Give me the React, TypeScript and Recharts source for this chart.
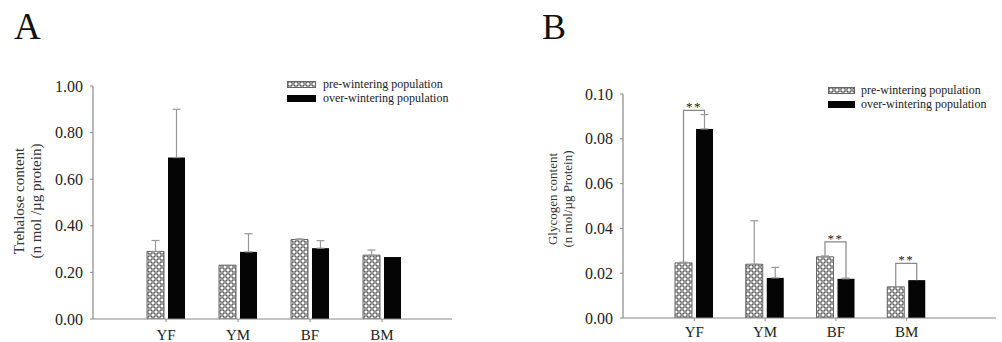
import React from 'react';
import { BarChart, Bar, XAxis, YAxis, ErrorBar, Legend } from 'recharts';

const categories = ['YF', 'YM', 'BF', 'BM'];
const seriesNames = ['pre-wintering population', 'over-wintering population'];

const trehalosePre = [0.29, 0.231, 0.341, 0.274];
const trehalosePreErr: (number | null)[] = [0.047, null, 0.003, 0.022];
const trehaloseOver = [0.693, 0.288, 0.304, 0.266];
const trehaloseOverErr: (number | null)[] = [0.207, 0.078, 0.032, null];
const trehaloseSig: (number | null)[] = [null, null, null, null];
const trehaloseTicks = [0, 0.2, 0.4, 0.6, 0.8, 1.0];

const glycogenPre = [0.0246, 0.024, 0.0273, 0.0139];
const glycogenPreErr: (number | null)[] = [0.0003, 0.0194, 0.0004, null];
const glycogenOver = [0.0844, 0.0179, 0.0175, 0.0169];
const glycogenOverErr: (number | null)[] = [0.0064, 0.0047, 0.0003, null];
const glycogenSig: (number | null)[] = [0.0927, null, 0.034, 0.0244];
const glycogenTicks = [0, 0.02, 0.04, 0.06, 0.08, 0.1];
const sigLabel = '**';

const FONT = "'Liberation Serif', 'Times New Roman', serif";
const BAR_SIZE = 17;
const BAR_GAP = 4;

function buildRows(pre: number[], preErr: (number | null)[], over: number[], overErr: (number | null)[], sig: (number | null)[]) {
  return categories.map((c, i) => ({
    cat: c,
    pre: pre[i],
    over: over[i],
    preErr: preErr[i] == null ? null : [0, preErr[i]],
    overErr: overErr[i] == null ? null : [0, overErr[i]],
    preErrUp: preErr[i] ?? 0,
    overErrUp: overErr[i] ?? 0,
    sig: sig[i],
  }));
}

const rowsA = buildRows(trehalosePre, trehalosePreErr, trehaloseOver, trehaloseOverErr, trehaloseSig);
const rowsB = buildRows(glycogenPre, glycogenPreErr, glycogenOver, glycogenOverErr, glycogenSig);

const OverShape = (props: any) => {
  const { x, y, width, height, payload } = props;
  const bottom = y + height;
  const k = payload.over ? height / payload.over : 0;
  let bracket = null;
  if (payload.sig != null && k) {
    const by = bottom - payload.sig * k;
    const lx = x - BAR_GAP - width / 2;
    const rx = x + width / 2;
    const lTop = bottom - (payload.pre + payload.preErrUp) * k;
    const rTop = bottom - (payload.over + payload.overErrUp) * k;
    bracket = (
      <g>
        <path d={`M${lx},${lTop} V${by} H${rx} V${rTop}`} fill="none" stroke="#888" strokeWidth={1.2} />
        <text x={(lx + rx) / 2} y={by + 1} textAnchor="middle" fontFamily={FONT} fontSize={13} letterSpacing={1.5} fill="#222" style={{ fill: '#222' }}>
          {sigLabel}
        </text>
      </g>
    );
  }
  return (
    <g>
      <rect x={x} y={y} width={width} height={height} fill="#050505" />
      {bracket}
    </g>
  );
};

const PatternDef = ({ id }: { id: string }) => (
  <defs>
    <pattern id={id} width={6} height={6} patternUnits="userSpaceOnUse">
      <rect width={6} height={6} fill="#fff" />
      <circle cx={3} cy={3} r={2.1} fill="none" stroke="#555" strokeWidth={0.9} />
      <circle cx={0} cy={0} r={2.1} fill="none" stroke="#555" strokeWidth={0.9} />
      <circle cx={6} cy={0} r={2.1} fill="none" stroke="#555" strokeWidth={0.9} />
      <circle cx={0} cy={6} r={2.1} fill="none" stroke="#555" strokeWidth={0.9} />
      <circle cx={6} cy={6} r={2.1} fill="none" stroke="#555" strokeWidth={0.9} />
    </pattern>
  </defs>
);

const makeLegend = (patternId: string, swW: number, gap: number, rowH: number) => () => (
  <div style={{ fontFamily: FONT, fontSize: 12, color: '#222' }}>
    {seriesNames.map((n, i) => (
      <div key={n} style={{ display: 'flex', alignItems: 'center', height: rowH, whiteSpace: 'nowrap' }}>
        <svg width={swW} height={7} style={{ display: 'block' }}>
          {i === 0 ? (
            <rect x={0.5} y={0.5} width={swW - 1} height={6} fill={`url(#${patternId})`} stroke="#666" />
          ) : (
            <rect x={0} y={0} width={swW} height={7} fill="#050505" />
          )}
        </svg>
        <span style={{ marginLeft: gap, lineHeight: `${rowH}px` }}>{n}</span>
      </div>
    ))}
  </div>
);

const makeYLabel = (lines: string[], x1: number, x2: number, cy: number, fs: number) => () => (
  <g>
    <text transform={`translate(${x1},${cy}) rotate(-90)`} textAnchor="middle" fontFamily={FONT} fontSize={fs} fill="#333">
      {lines[0]}
    </text>
    <text transform={`translate(${x2},${cy}) rotate(-90)`} textAnchor="middle" fontFamily={FONT} fontSize={fs} fill="#333">
      {lines[1]}
    </text>
  </g>
);

interface PanelProps {
  rows: any[];
  width: number;
  margin: any;
  xHeight: number;
  yWidth: number;
  padding: { left: number; right: number };
  domain: [number, number];
  ticks: number[];
  patternId: string;
  xTickMargin: number;
  yLabel: () => React.ReactElement;
  legend: () => React.ReactElement;
  legendPos: { left: number; top: number };
}

const Panel = (p: PanelProps) => (
  <BarChart
    width={p.width}
    height={342}
    data={p.rows}
    margin={p.margin}
    barSize={BAR_SIZE}
    barGap={BAR_GAP}
  >
    <PatternDef id={p.patternId} />
    <XAxis
      dataKey="cat"
      height={p.xHeight}
      padding={p.padding}
      tickSize={3}
      tickMargin={p.xTickMargin}
      axisLine={{ stroke: '#888', strokeWidth: 1.2 }}
      tickLine={{ stroke: '#888' }}
      tick={{ fontFamily: FONT, fontSize: 15, fill: '#222' }}
      interval={0}
    />
    <YAxis
      width={p.yWidth}
      domain={p.domain}
      ticks={p.ticks}
      type="number"
      allowDataOverflow
      tickFormatter={(v: number) => v.toFixed(2)}
      tickSize={3}
      tickMargin={7}
      axisLine={{ stroke: '#888', strokeWidth: 1.2 }}
      tickLine={{ stroke: '#888' }}
      tick={{ fontFamily: FONT, fontSize: 16, fill: '#222' }}
      label={{ content: p.yLabel }}
    />
    <Legend
      layout="vertical"
      align="center"
      verticalAlign="middle"
      content={p.legend}
      wrapperStyle={{ left: p.legendPos.left, top: p.legendPos.top, width: 200, height: 30 }}
    />
    <Bar dataKey="pre" name={seriesNames[0]} fill={`url(#${p.patternId})`} stroke="#666" strokeWidth={1} isAnimationActive={false}>
      <ErrorBar dataKey="preErr" width={4} stroke="#999" strokeWidth={1.2} direction="y" />
    </Bar>
    <Bar dataKey="over" name={seriesNames[1]} fill="#050505" shape={OverShape} isAnimationActive={false}>
      <ErrorBar dataKey="overErr" width={4} stroke="#999" strokeWidth={1.2} direction="y" />
    </Bar>
  </BarChart>
);

export default function App() {
  return (
    <div style={{ position: 'absolute', left: 0, top: 0, width: 1002, height: 342, background: '#fff', overflow: 'hidden' }}>
      <svg width={1002} height={60} style={{ position: 'absolute', left: 0, top: 0 }}>
        <text x={14} y={39} fontFamily={FONT} fontSize={37} fill="#111">A</text>
        <text x={542} y={39} fontFamily={FONT} fontSize={36} fill="#111">B</text>
      </svg>
      <div style={{ position: 'absolute', left: 0, top: 0 }}>
        <Panel
          rows={rowsA}
          width={480}
          margin={{ top: 86, right: 28, bottom: 0, left: 0 }}
          xHeight={23}
          yWidth={93}
          padding={{ left: 37, right: 34 }}
          domain={[0, 1]}
          ticks={trehaloseTicks}
          patternId="hatchA"
          xTickMargin={7}
          yLabel={makeYLabel(['Trehalose content', '(n mol /\u00b5g protein)'], 24, 41, 201, 15)}
          legend={makeLegend('hatchA', 29, 7, 14)}
          legendPos={{ left: 287, top: 77 }}
        />
      </div>
      <div style={{ position: 'absolute', left: 520, top: 0 }}>
        <Panel
          rows={rowsB}
          width={482}
          margin={{ top: 94, right: 6, bottom: 0, left: 0 }}
          xHeight={24}
          yWidth={103}
          padding={{ left: 36, right: 54 }}
          domain={[0, 0.1]}
          ticks={glycogenTicks}
          patternId="hatchB"
          xTickMargin={5}
          yLabel={makeYLabel(['Glycogen content', '(n mol/\u00b5g Protein)'], 37, 52, 199, 13)}
          legend={makeLegend('hatchB', 27, 6, 13.5)}
          legendPos={{ left: 308, top: 84 }}
        />
      </div>
    </div>
  );
}
